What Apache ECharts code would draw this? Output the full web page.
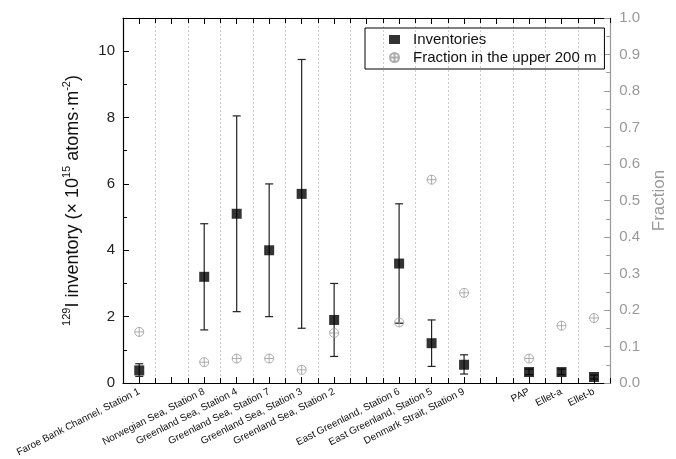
<!DOCTYPE html>
<html><head><meta charset="utf-8">
<script src="https://cdn.jsdelivr.net/npm/echarts@6/dist/echarts.min.js"></script>
<style>html,body{margin:0;padding:0;background:#fff}#c{width:676px;height:459px}</style>
</head><body><div id="c"></div>
<script>
const categories = ['Faroe Bank Channel, Station 1', ' ', 'Norwegian Sea, Station 8', 'Greenland Sea, Station 4', 'Greenland Sea, Station 7', 'Greenland Sea, Station 3', 'Greenland Sea, Station 2', '  ', 'East Greenland, Station 6', 'East Greenland, Station 5', 'Denmark Strait, Station 9', '   ', 'PAP', 'Ellet-a', 'Ellet-b'];
const inventories = [0.38, null, 3.2, 5.1, 4.0, 5.7, 1.9, null, 3.6, 1.2, 0.55, null, 0.33, 0.33, 0.18];
const errLow =      [0.2,  null, 1.6, 2.15, 2.0, 1.65, 0.8, null, 1.8, 0.5, 0.27, null, 0.25, 0.25, 0.12];
const errHigh =     [0.58, null, 4.8, 8.05, 6.0, 9.75, 3.0, null, 5.4, 1.9, 0.85, null, 0.42, 0.42, 0.24];
const fraction =    [0.14, null, 0.057, 0.067, 0.067, 0.036, 0.137, null, 0.166, 0.557, 0.247, null, 0.067, 0.157, 0.178];
const leftTicks = [0, 2, 4, 6, 8, 10];

const FONT = 'Liberation Sans, Arial, sans-serif';
const circlePlus = 'path://M10,0A10,10,0,1,1,10,20A10,10,0,1,1,10,0ZM10,0L10,20M0,10L20,10';

const chart = echarts.init(document.getElementById('c'));
const baseX = {type: 'category', data: categories, gridIndex: 0};
const pts = (arr) => arr.map((v, i) => v == null ? null : [i, v]).filter(Boolean);
const errData = errLow.map((v, i) => v == null ? null : [i, v, errHigh[i]]).filter(Boolean);

chart.setOption({
  animation: false,
  textStyle: {fontFamily: FONT},
  grid: {left: 123, right: 53, top: 18, bottom: 76, containLabel: false},
  legend: {
    orient: 'vertical', left: 365, top: 28,
    padding: [4, 8, 4, 24], itemGap: 3, itemWidth: 11, itemHeight: 9,
    borderColor: '#000', borderWidth: 1, borderRadius: 0,
    textStyle: {fontSize: 15, color: '#111', fontFamily: FONT, padding: [0, 0, 0, 8]},
    data: ['Inventories', 'Fraction in the upper 200 m']
  },
  xAxis: [
    Object.assign({}, baseX, {position: 'bottom',
      axisLine: {lineStyle: {color: '#000', width: 1.2}},
      axisTick: {show: true, inside: true, length: 5, interval: 0, lineStyle: {color: '#000'}},
      axisLabel: {interval: 0, rotate: 27, fontSize: 10, color: '#111', margin: 8, fontFamily: FONT},
      splitLine: {show: true, interval: 0, lineStyle: {color: '#ccc', type: [2, 2], width: 1}}
    }),
    Object.assign({}, baseX, {position: 'bottom',
      axisLine: {show: false},
      axisTick: {show: true, inside: true, length: 6, interval: 0, alignWithLabel: true, lineStyle: {color: '#000'}},
      axisLabel: {show: false}, splitLine: {show: false}
    }),
    Object.assign({}, baseX, {position: 'top',
      axisLine: {lineStyle: {color: '#000', width: 1.2}},
      axisTick: {show: true, inside: true, length: 5, interval: 0, lineStyle: {color: '#000'}},
      axisLabel: {show: false}, splitLine: {show: false}
    }),
    Object.assign({}, baseX, {position: 'top',
      axisLine: {show: false},
      axisTick: {show: true, inside: true, length: 6, interval: 0, alignWithLabel: true, lineStyle: {color: '#000'}},
      axisLabel: {show: false}, splitLine: {show: false}
    })
  ],
  yAxis: [
    {
      type: 'value', position: 'left', min: 0, max: 11, interval: 2,
      axisLine: {show: true, lineStyle: {color: '#000', width: 1.2}},
      axisTick: {show: true, inside: true, length: 6, lineStyle: {color: '#000'}},
      minorTick: {show: true, splitNumber: 2, length: 4, lineStyle: {color: '#000'}},
      splitLine: {show: false},
      axisLabel: {fontSize: 15, color: '#222', margin: 8, fontFamily: FONT,
        formatter: (v) => leftTicks.includes(v) ? String(v) : ''},
      name: '{sup|129}I inventory (× 10{sup|15} atoms·m{sup|-2})',
      nameLocation: 'middle', nameRotate: 90, nameGap: 38,
      nameTextStyle: {fontSize: 18, color: '#111', fontFamily: FONT, lineHeight: 24,
        rich: {sup: {fontSize: 11, verticalAlign: 'top', lineHeight: 24, color: '#111', fontFamily: FONT}}}
    },
    {
      type: 'value', position: 'right', min: 0, max: 1, interval: 0.1,
      axisLine: {show: true, lineStyle: {color: '#999', width: 1.2}},
      axisTick: {show: true, inside: true, length: 6, lineStyle: {color: '#999'}},
      minorTick: {show: true, splitNumber: 2, length: 4, lineStyle: {color: '#999'}},
      splitLine: {show: false},
      axisLabel: {fontSize: 15, color: '#999', margin: 9, fontFamily: FONT, formatter: (v) => v.toFixed(1)},
      name: 'Fraction', nameLocation: 'middle', nameRotate: 90, nameGap: 32,
      nameTextStyle: {fontSize: 17, color: '#999', fontFamily: FONT}
    }
  ],
  series: [
    {
      type: 'custom', name: 'err', xAxisIndex: 0, yAxisIndex: 0, z: 2,
      data: errData,
      renderItem: function (params, api) {
        const x = api.value(0);
        const lo = api.coord([x, api.value(1)]);
        const hi = api.coord([x, api.value(2)]);
        const w = 4;
        const st = {stroke: '#222', lineWidth: 1.2};
        return {type: 'group', children: [
          {type: 'line', shape: {x1: lo[0], y1: lo[1], x2: hi[0], y2: hi[1]}, style: st},
          {type: 'line', shape: {x1: lo[0] - w, y1: lo[1], x2: lo[0] + w, y2: lo[1]}, style: st},
          {type: 'line', shape: {x1: hi[0] - w, y1: hi[1], x2: hi[0] + w, y2: hi[1]}, style: st}
        ]};
      }
    },
    {
      type: 'scatter', name: 'Inventories', xAxisIndex: 0, yAxisIndex: 0, z: 4,
      symbol: 'rect', symbolSize: 10,
      itemStyle: {color: '#000'},
      data: pts(inventories)
    },
    {
      type: 'scatter', name: 'Fraction in the upper 200 m', xAxisIndex: 0, yAxisIndex: 1, z: 3,
      symbol: circlePlus, symbolSize: 9,
      itemStyle: {color: 'rgba(0,0,0,0)', borderColor: '#999', borderWidth: 1},
      data: pts(fraction)
    }
  ]
});
</script></body></html>
